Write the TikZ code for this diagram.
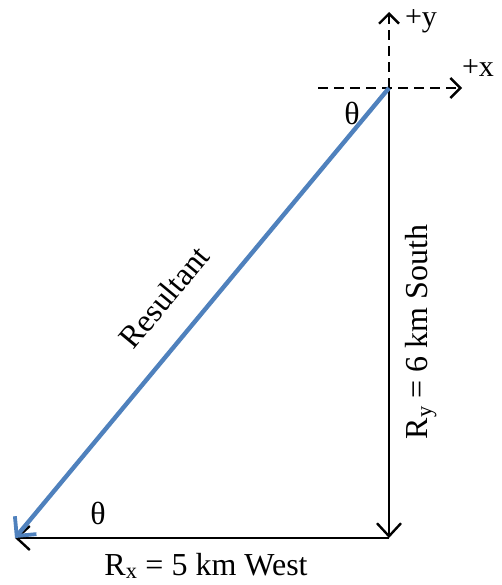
\documentclass[tikz,border=0pt]{standalone}
\usepackage{fontspec}
\setmainfont{Liberation Serif}
\usepackage{tikz}
\usetikzlibrary{arrows.meta, positioning, calc}
\definecolor{resblue}{HTML}{4F81BD}

\begin{document}
\begin{tikzpicture}[x=1pt, y=-1pt,
        vec/.style={draw=black, line width=2.8pt, -{Straight Barb[length=13pt, width=24pt, line width=2.4pt]}},
        res/.style={draw=resblue, line width=4.4pt, -{Straight Barb[length=14pt, width=28pt, line width=3.8pt]}},
        axis/.style={draw=black, line width=2.4pt, dash pattern=on 10pt off 6pt, -{Straight Barb[length=10pt, width=20pt, line width=2.4pt]}},
        lbl/.style={font=\fontsize{32}{34}\selectfont, inner sep=0pt}]

        \useasboundingbox (0,0) rectangle (502,585);

        % Points
        \coordinate (origin) at (389,88);
        \coordinate (corner) at (389,538);
        \coordinate (west) at (15,538);
        \coordinate (xstart) at (318,88);
        \coordinate (xend) at (462,88);
        \coordinate (yend) at (389,12);

        % Axes - dashed
        \path [axis] (xstart) -- (xend);
        \path [axis] (origin) -- (yend);
        \node [lbl, font=\fontsize{30}{32}\selectfont] (xlabel) at (478,68) {+x};
        \node [lbl, font=\fontsize{30}{32}\selectfont] (ylabel) at (421,21) {+y};

        % Components
        \path [vec] (origin) -- (corner);
        \path [vec] (corner) -- (west);

        % Resultant
        \path [res] (origin) -- (west);

        % Labels
        \node [lbl, rotate=50.3] (reslabel) at (164,297) {Resultant};
        \node [lbl, rotate=90] (rylabel) at (421,332) {R\textsubscript{y} = 6 km South};
        \node [lbl] (rxlabel) at (206,566) {R\textsubscript{x} = 5 km West};
        \node [lbl] (thetatop) at (352,113) {θ};
        \node [lbl] (thetabot) at (98,513) {θ};
    \end{tikzpicture}
\end{document}
